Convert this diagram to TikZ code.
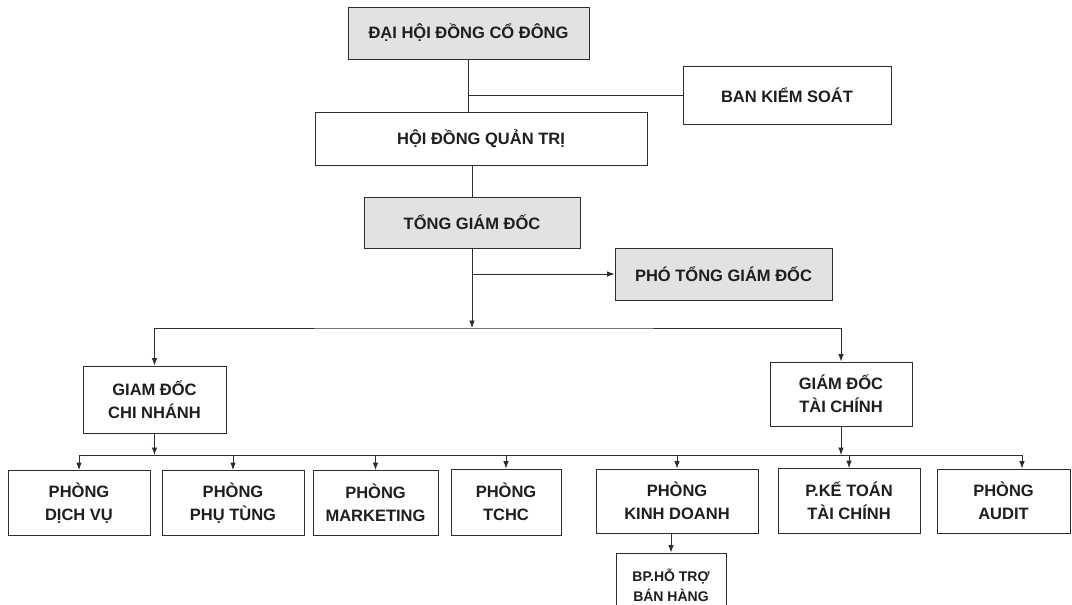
\documentclass[tikz,border=0pt]{standalone}
\usepackage{fontspec}
\setmainfont{Liberation Sans}
\usepackage{tikz}
\usetikzlibrary{arrows.meta}
\tikzstyle{chart} = [x = 1pt, y = -1pt]
\definecolor{boxGray}{RGB}{226,226,226}
\definecolor{lineColor}{RGB}{45,45,45}
\definecolor{textColor}{RGB}{30,30,30}
\tikzstyle{unitStyle} = [draw=lineColor, line width=.8pt, align=center, inner sep=0pt, text=textColor, font=\bfseries\fontsize{16.5}{23}\selectfont]
\tikzstyle{shadedUnitStyle} = [unitStyle, fill=boxGray]
\tikzstyle{smallUnitStyle} = [unitStyle, font=\bfseries\fontsize{14}{20}\selectfont]
\tikzstyle{linkLine} = [draw=lineColor, line width=.8pt]
\tikzstyle{linkArrow} = [linkLine, -{Latex[length=7.5pt, width=5.5pt]}]
\tikzstyle{linkBoth} = [linkLine, {Latex[length=7.5pt, width=5.5pt]}-{Latex[length=7.5pt, width=5.5pt]}]
\newcommand{\unitBox}[6]{\node [unitStyle, minimum width = #4pt, minimum height = #5pt] (#1) at (#2,#3) {#6};}
\newcommand{\shadedBox}[6]{\node [shadedUnitStyle, minimum width = #4pt, minimum height = #5pt] (#1) at (#2,#3) {#6};}
\newcommand{\smallBox}[6]{\node [smallUnitStyle, minimum width = #4pt, minimum height = #5pt] (#1) at (#2,#3) {#6};}
\begin{document}
\begin{tikzpicture}[chart]
            \useasboundingbox (0,0) rectangle (1072,605);

            \shadedBox{daiHoi}{468.5}{33}{241}{52}{ĐẠI HỘI ĐỒNG CỔ ĐÔNG}
            \unitBox{banKiemSoat}{787}{95}{208}{58}{BAN KIỂM SOÁT}
            \unitBox{hoiDong}{481}{138.5}{332}{53}{HỘI ĐỒNG QUẢN TRỊ}
            \shadedBox{tongGiamDoc}{472}{222.5}{216}{51}{TỔNG GIÁM ĐỐC}
            \shadedBox{phoTong}{723.5}{274}{217}{52}{PHÓ TỔNG GIÁM ĐỐC}

            \unitBox{chiNhanh}{154.5}{399.5}{143}{67}{GIAM ĐỐC\\CHI NHÁNH}
            \unitBox{taiChinh}{841}{394}{142}{64}{GIÁM ĐỐC\\TÀI CHÍNH}

            \unitBox{dichVu}{79}{503}{142}{65}{PHÒNG\\DỊCH VỤ}
            \unitBox{phuTung}{233}{503}{142}{65}{PHÒNG\\PHỤ TÙNG}
            \unitBox{marketing}{375.5}{503}{125}{65}{PHÒNG\\MARKETING}
            \unitBox{tchc}{506}{502}{110}{66}{PHÒNG\\TCHC}
            \unitBox{kinhDoanh}{677}{501}{162}{64}{PHÒNG\\KINH DOANH}
            \unitBox{keToan}{849}{501}{142}{65}{P.KẾ TOÁN\\TÀI CHÍNH}
            \unitBox{audit}{1003.5}{501}{133}{64}{PHÒNG\\AUDIT}
            \smallBox{hoTro}{671}{585}{110}{64}{BP.HỖ TRỢ\\BÁN HÀNG}

            \coordinate (upperBus) at (470,328);
            \coordinate (lowerBus) at (0,455);
            \coordinate (auditTap) at (1022,455);

            \draw [linkLine] (daiHoi.south) -- (daiHoi.south |- hoiDong.north);
            \draw [linkLine] (daiHoi.south |- banKiemSoat) -- (banKiemSoat.west);
            \draw [linkLine] (tongGiamDoc.north |- hoiDong.south) -- (tongGiamDoc.north);
            \draw [linkArrow] (tongGiamDoc.south) -- (tongGiamDoc.south |- upperBus);
            \draw [linkArrow] (tongGiamDoc.south |- phoTong.west) -- (phoTong.west);
            \draw [linkBoth] (chiNhanh.north) |- (upperBus) -| (taiChinh.north);

            \draw [linkArrow] (chiNhanh.south) -- (chiNhanh.south |- lowerBus);
            \draw [linkArrow] (taiChinh.south) -- (taiChinh.south |- lowerBus);
            \draw [linkLine] (dichVu.north |- lowerBus) -- (auditTap);
            \foreach \unit in {dichVu, phuTung, marketing, tchc, kinhDoanh, keToan} {
              \draw [linkArrow] (\unit.north |- lowerBus) -- (\unit.north);
            }
            \draw [linkArrow] (auditTap) -- (auditTap |- audit.north);
            \draw [linkArrow] (hoTro.north |- kinhDoanh.south) -- (hoTro.north);
          \end{tikzpicture}
\end{document}
